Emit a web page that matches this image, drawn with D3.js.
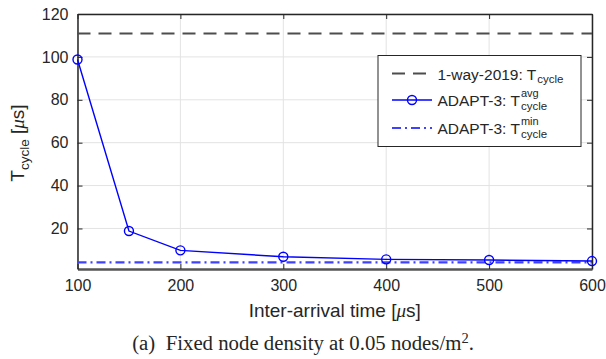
<!DOCTYPE html>
<html>
<head>
<meta charset="utf-8">
<script src="https://cdn.jsdelivr.net/npm/d3@7"></script>
<style>
  body { margin: 0; background: #fff; }
  svg text { font-family: "Liberation Sans", Arial, Helvetica, sans-serif; fill: #262626; }
</style>
</head>
<body>
<div id="chart"></div>
<script>
const arrivalTimes = [100, 150, 200, 300, 400, 500, 600];
const adaptAvg = [98.8, 18.8, 9.8, 6.8, 5.6, 5.3, 4.8];
const adaptMin = [4.2, 4.2, 4.2, 4.2, 4.2, 4.2, 4.2];
const oneWayTimes = [100, 600];
const oneWay = [110.9, 110.9];
const xTicks = [100, 200, 300, 400, 500, 600];
const yTicks = [20, 40, 60, 80, 100, 120];

const W = 606, H = 359;
const plot = { left: 77.5, right: 592, top: 14, bottom: 269 };

const svg = d3.select("#chart").append("svg")
    .attr("width", W)
    .attr("height", H);

const x = d3.scaleLinear()
    .domain([100, 600])
    .range([plot.left, plot.right]);

const y = d3.scaleLinear()
    .domain([1.1, 120])
    .range([plot.bottom, plot.top]);

// grid
svg.append("g")
    .selectAll("line")
    .data(xTicks)
    .enter().append("line")
    .attr("x1", d => x(d)).attr("x2", d => x(d))
    .attr("y1", plot.top).attr("y2", plot.bottom)
    .attr("stroke", "#e3e3e3").attr("stroke-width", 1);

svg.append("g")
    .selectAll("line")
    .data(yTicks)
    .enter().append("line")
    .attr("x1", plot.left).attr("x2", plot.right)
    .attr("y1", d => y(d)).attr("y2", d => y(d))
    .attr("stroke", "#e3e3e3").attr("stroke-width", 1);

// axes (ticks inward)
const axisStyle = g => {
    g.select(".domain").attr("stroke", "#262626").attr("stroke-width", 1.5);
    g.selectAll(".tick line").attr("stroke", "#262626");
    g.selectAll(".tick text").style("font-size", "16px").attr("fill", "#262626");
};

svg.append("g")
    .attr("transform", "translate(0," + plot.bottom + ")")
    .call(d3.axisBottom(x).tickValues(xTicks).tickSizeInner(-5).tickSizeOuter(0).tickPadding(11))
    .call(axisStyle)
    .call(g => g.select(".domain").attr("stroke", "#555").attr("stroke-width", 2.5));

svg.append("g")
    .attr("transform", "translate(" + plot.left + ",0)")
    .call(d3.axisLeft(y).tickValues(yTicks).tickSizeInner(-5).tickSizeOuter(0).tickPadding(9))
    .call(axisStyle);

svg.append("g")
    .attr("transform", "translate(0," + plot.top + ")")
    .call(d3.axisTop(x).tickValues(xTicks).tickSizeInner(-5).tickSizeOuter(0).tickFormat(""))
    .call(axisStyle);

svg.append("g")
    .attr("transform", "translate(" + plot.right + ",0)")
    .call(d3.axisRight(y).tickValues(yTicks).tickSizeInner(-5).tickSizeOuter(0).tickFormat(""))
    .call(axisStyle);

// series
const line = d3.line()
    .x(d => x(d[0]))
    .y(d => y(d[1]));

svg.append("path")
    .datum(d3.zip(oneWayTimes, oneWay))
    .attr("d", line)
    .attr("fill", "none")
    .attr("stroke", "#4d4d4d")
    .attr("stroke-width", 2.2)
    .attr("stroke-dasharray", "13,8");

svg.append("path")
    .datum(d3.zip(arrivalTimes, adaptMin))
    .attr("d", line)
    .attr("fill", "none")
    .attr("stroke", "#4040ff")
    .attr("stroke-width", 2.2)
    .attr("stroke-dasharray", "9,4,2,4");

svg.append("path")
    .datum(d3.zip(arrivalTimes, adaptAvg))
    .attr("d", line)
    .attr("fill", "none")
    .attr("stroke", "#0000ff")
    .attr("stroke-width", 1.4);

svg.append("g")
    .selectAll("circle")
    .data(d3.zip(arrivalTimes, adaptAvg))
    .enter().append("circle")
    .attr("cx", d => x(d[0]))
    .attr("cy", d => y(d[1]))
    .attr("r", 4.5)
    .attr("fill", "none")
    .attr("stroke", "#0000ff")
    .attr("stroke-width", 1.4);

// axis labels
const xl = svg.append("text")
    .attr("x", (plot.left + plot.right) / 2)
    .attr("y", 317)
    .attr("text-anchor", "middle")
    .style("font-size", "19px");
xl.append("tspan").text("Inter-arrival time [");
xl.append("tspan").style("font-family", "Liberation Serif, serif").style("font-style", "italic").text("\u03bc");
xl.append("tspan").text("s]");

const yl = svg.append("text")
    .attr("transform", "translate(24,143) rotate(-90)")
    .attr("text-anchor", "middle")
    .style("font-size", "19px");
yl.append("tspan").text("T");
yl.append("tspan").attr("dy", 5).style("font-size", "13.5px").text("cycle");
yl.append("tspan").attr("dy", -5).text(" [");
yl.append("tspan").style("font-family", "Liberation Serif, serif").style("font-style", "italic").text("\u03bc");
yl.append("tspan").text("s]");

// legend
const legend = { x: 378, y: 55.5, w: 203, h: 91 };
svg.append("rect")
    .attr("x", legend.x).attr("y", legend.y)
    .attr("width", legend.w).attr("height", legend.h)
    .attr("fill", "#fff")
    .attr("stroke", "#262626").attr("stroke-width", 1);

const legendRows = [
    { name: "1-way-2019: T", sup: "", color: "#4d4d4d", dash: "13,8", marker: false, cy: 73.5 },
    { name: "ADAPT-3: T", sup: "avg", color: "#0000ff", dash: null, marker: true, cy: 100 },
    { name: "ADAPT-3: T", sup: "min", color: "#4040ff", dash: "9,4,2,4", marker: false, cy: 128 }
];

legendRows.forEach(r => {
    svg.append("line")
        .attr("x1", 392).attr("x2", 432)
        .attr("y1", r.cy).attr("y2", r.cy)
        .attr("stroke", r.color)
        .attr("stroke-width", r.marker ? 1.4 : 2.2)
        .attr("stroke-dasharray", r.dash);
    if (r.marker) {
        svg.append("circle")
            .attr("cx", 412).attr("cy", r.cy).attr("r", 4.5)
            .attr("fill", "none").attr("stroke", r.color).attr("stroke-width", 1.4);
    }
    const t = svg.append("text")
        .attr("x", 437.5).attr("y", r.cy + 6)
        .style("font-size", "15.5px")
        .text(r.name);
    const bb = t.node().getComputedTextLength();
    if (r.sup) {
        svg.append("text")
            .attr("x", 437.5 + bb + 1).attr("y", r.cy - 3.5)
            .style("font-size", "11px")
            .text(r.sup);
    }
    svg.append("text")
        .attr("x", 437.5 + bb + 1).attr("y", r.cy + 9.5)
        .style("font-size", "11.5px")
        .text("cycle");
});

// caption
const cap = svg.append("text")
    .attr("x", 303)
    .attr("y", 350)
    .attr("text-anchor", "middle")
    .style("font-family", "Liberation Serif, Times New Roman, serif")
    .style("font-size", "20.8px")
    .attr("fill", "#000");
cap.append("tspan").text("(a)\u00a0\u00a0Fixed node density at 0.05 nodes/m");
cap.append("tspan").attr("dy", -7).style("font-size", "14.5px").text("2");
cap.append("tspan").attr("dy", 7).text(".");
</script>
</body>
</html>
